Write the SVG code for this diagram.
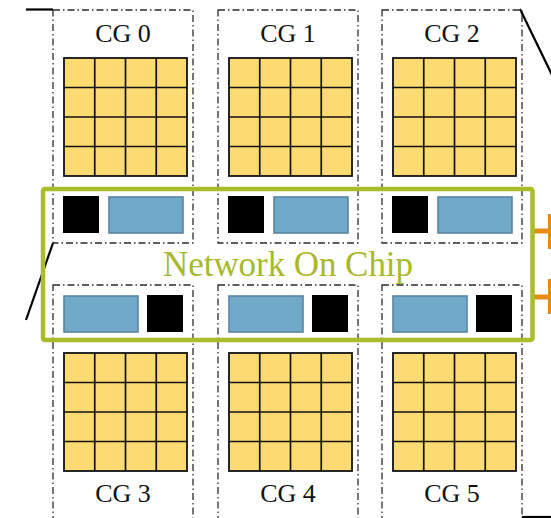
<svg xmlns="http://www.w3.org/2000/svg" width="551" height="518" viewBox="0 0 551 518">
  <defs>
    <style>
      .cg { fill: none; stroke: #2b2b2b; stroke-width: 1.3; stroke-dasharray: 7 3 1.5 3; }
      .core { fill: #FCDB73; stroke: #111; stroke-width: 1.8; }
      .grid { stroke: #111; stroke-width: 1.7; }
      .mem { fill: #000; }
      .buf { fill: #71A9C9; stroke: #5A84A3; stroke-width: 1.6; }
      .label { font-family: "Liberation Serif", "Times New Roman", serif; font-size: 26px; fill: #111; text-anchor: middle; }
      .noc { fill: none; stroke: #A9BD2B; stroke-width: 4.5; }
      .noc-text { font-family: "Liberation Serif", "Times New Roman", serif; font-size: 35px; fill: #A7B92A; }
      .link { stroke: #E38C10; stroke-width: 5; }
      .bar { fill: #E38C10; }
      .edge { stroke: #000; stroke-width: 2.2; fill: none; }
    </style>
    <!-- 4x4 core grid, 123 x 118 -->
    <g id="cores">
      <rect class="core" x="0" y="0" width="123" height="118"/>
      <path class="grid" d="M30.75 0V118M61.5 0V118M92.25 0V118M0 29.5H123M0 59H123M0 88.5H123"/>
    </g>
  </defs>

  <rect width="551" height="518" fill="#fff"/>

  <!-- outline lines of the enclosing chip -->
  <g id="connectors">
    <path class="edge" d="M26 9.5H53"/>
    <path class="edge" d="M520 9L553 77"/>
    <path class="edge" d="M53 243L26 320"/>
    <path class="edge" d="M522 517H551"/>
    <line class="link" x1="534" y1="231" x2="549" y2="231"/>
    <line class="link" x1="534" y1="297" x2="549" y2="297"/>
    <rect class="bar" x="548" y="214" width="4" height="35"/>
    <rect class="bar" x="548" y="279" width="4" height="35"/>
  </g>

  <!-- top row of core groups -->
  <g id="cg0">
    <rect class="cg" x="53" y="10" width="140" height="233"/>
    <text class="label" x="123" y="42">CG 0</text>
    <use href="#cores" x="64" y="58"/>
    <rect class="mem" x="63" y="196" width="36" height="37"/>
    <rect class="buf" x="109" y="197" width="74" height="36"/>
  </g>
  <g id="cg1">
    <rect class="cg" x="218" y="10" width="140" height="233"/>
    <text class="label" x="288" y="42">CG 1</text>
    <use href="#cores" x="229" y="58"/>
    <rect class="mem" x="228" y="196" width="36" height="37"/>
    <rect class="buf" x="274" y="197" width="74" height="36"/>
  </g>
  <g id="cg2">
    <rect class="cg" x="382" y="10" width="140" height="233"/>
    <text class="label" x="452" y="42">CG 2</text>
    <use href="#cores" x="393" y="58"/>
    <rect class="mem" x="392" y="196" width="36" height="37"/>
    <rect class="buf" x="438" y="197" width="74" height="36"/>
  </g>

  <!-- bottom row of core groups (lower border runs past the page edge) -->
  <g id="cg3">
    <rect class="cg" x="53" y="285" width="140" height="240"/>
    <text class="label" x="123" y="502">CG 3</text>
    <use href="#cores" x="64" y="353"/>
    <rect class="buf" x="64" y="296" width="74" height="36"/>
    <rect class="mem" x="147" y="295" width="36" height="37"/>
  </g>
  <g id="cg4">
    <rect class="cg" x="218" y="285" width="140" height="240"/>
    <text class="label" x="288" y="502">CG 4</text>
    <use href="#cores" x="229" y="353"/>
    <rect class="buf" x="229" y="296" width="74" height="36"/>
    <rect class="mem" x="312" y="295" width="36" height="37"/>
  </g>
  <g id="cg5">
    <rect class="cg" x="382" y="285" width="140" height="240"/>
    <text class="label" x="452" y="502">CG 5</text>
    <use href="#cores" x="393" y="353"/>
    <rect class="buf" x="393" y="296" width="74" height="36"/>
    <rect class="mem" x="476" y="295" width="36" height="37"/>
  </g>

  <!-- network on chip -->
  <g id="noc">
    <rect class="noc" x="43" y="189" width="489.5" height="151" rx="2"/>
    <text class="noc-text" x="163" y="276" textLength="250" lengthAdjust="spacing">Network On Chip</text>
  </g>
</svg>
